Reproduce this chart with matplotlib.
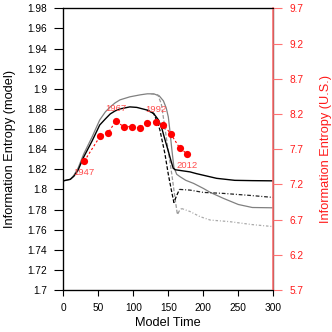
import matplotlib
matplotlib.use("Agg")
import matplotlib.pyplot as plt
from matplotlib.ticker import FuncFormatter

plt.rcParams['font.family'] = ['Liberation Sans', 'DejaVu Sans']

RED = '#ff1a1a'
RED_LIGHT = '#ff7373'

# model runs (left axis)
black_x = [0, 10, 15, 21, 29, 41, 52, 60, 67, 74, 81, 88, 95, 105, 119, 129, 136, 141, 145,
           150, 154, 157, 160, 170, 181, 190, 219, 245, 270, 300]
black_y = [1.8085, 1.810, 1.813, 1.819, 1.832, 1.848, 1.864, 1.870, 1.875, 1.878, 1.880, 1.881,
           1.882, 1.8815, 1.879, 1.8755, 1.869, 1.860, 1.850, 1.838, 1.828, 1.821, 1.8195,
           1.8185, 1.8174, 1.8157, 1.811, 1.809, 1.8087, 1.8085]

gray_x = [0, 10, 15, 21, 29, 41, 52, 60, 67, 74, 81, 95, 110, 120, 129, 137, 143, 147, 150,
          152, 155, 158, 162, 167, 175, 186, 200, 210, 229, 250, 270, 300]
gray_y = [1.8085, 1.810, 1.814, 1.821, 1.835, 1.852, 1.869, 1.877, 1.882, 1.886, 1.889, 1.892,
          1.894, 1.895, 1.895, 1.893, 1.888, 1.881, 1.872, 1.860, 1.840, 1.822, 1.815, 1.8125,
          1.809, 1.806, 1.801, 1.797, 1.791, 1.785, 1.782, 1.7817]

black_dash_x = [120, 129, 135, 138, 145, 150, 155, 158, 162, 166]
black_dash_y = [1.879, 1.8755, 1.866, 1.859, 1.836, 1.815, 1.797, 1.787, 1.794, 1.800]

black_dd_x = [166, 181, 200, 229, 267, 300]
black_dd_y = [1.800, 1.7993, 1.797, 1.796, 1.794, 1.792]

gray_dash_x = [125, 135, 140, 145, 150, 155, 160, 163, 166, 169]
gray_dash_y = [1.895, 1.894, 1.885, 1.862, 1.838, 1.815, 1.789, 1.775, 1.779, 1.781]

gray_dot_x = [169, 181, 195, 210, 237, 270, 300]
gray_dot_y = [1.781, 1.778, 1.773, 1.7695, 1.768, 1.765, 1.763]

# U.S. observations (right axis)
obs_x = [30, 53, 64, 75, 86, 98, 109, 120, 132, 143, 154, 166, 177]
obs_y = [7.53, 7.89, 7.93, 8.10, 8.02, 8.02, 8.00, 8.07, 8.09, 8.05, 7.91, 7.72, 7.63]
obs_labels = {0: '1947', 3: '1967', 8: '1992', 12: '2012'}

fig = plt.figure(figsize=(3.32, 3.32), dpi=100)
ax = fig.add_axes([0.1907, 0.1265, 0.6325, 0.8485])

ax.plot(gray_x, gray_y, color='#808080', lw=0.9)
ax.plot(gray_dash_x, gray_dash_y, color='#999999', lw=0.9, ls=(0, (3, 1.5)))
ax.plot(gray_dot_x, gray_dot_y, color='#aaaaaa', lw=0.9, ls=(0, (2, 1.5, 0.8, 1.5)))
ax.plot(black_x, black_y, color='black', lw=1.0)
ax.plot(black_dash_x, black_dash_y, color='black', lw=0.9, ls=(0, (3, 1.5)))
ax.plot(black_dd_x, black_dd_y, color='#222222', lw=0.9, ls=(0, (3, 1.5, 0.8, 1.5)))

ax.set_xlim(0, 300)
ax.set_ylim(1.7, 1.98)
ax.set_xticks(range(0, 301, 50))
ax.set_yticks([1.7 + 0.02 * i for i in range(15)])
ax.yaxis.set_major_formatter(FuncFormatter(lambda v, p: f"{round(v, 2):g}"))
ax.tick_params(direction='out', width=0.8, labelsize=7.3)
ax.tick_params(axis='x', length=4, pad=5)
ax.tick_params(axis='y', length=6.5, pad=5)
ax.set_xlabel('Model Time', fontsize=9.2, labelpad=3)
ax.set_ylabel('Information Entropy (model)', fontsize=9.2, labelpad=8)
for s in ax.spines.values():
    s.set_linewidth(0.9)

ax2 = ax.twinx()
ax2.plot(obs_x, obs_y, color='red', lw=0.8, ls=(0, (2, 2)), marker='o', ms=5.2,
         markeredgewidth=0)
for i, lab in obs_labels.items():
    dy = -8.5 if i in (0, 12) else 9
    ax2.annotate(lab, (obs_x[i], obs_y[i]), xytext=(0, dy), textcoords='offset points',
                 ha='center', va='center', fontsize=6.8, color='#ff4d4d')
ax2.set_ylim(5.7, 9.7)
ax2.set_yticks([5.7 + 0.5 * i for i in range(9)])
ax2.yaxis.set_major_formatter(FuncFormatter(lambda v, p: f"{round(v, 1):g}"))
ax2.tick_params(direction='out', length=6.5, width=0.8, labelsize=7.3, pad=5,
                colors=RED_LIGHT, labelcolor=RED)
ax2.spines['right'].set_color(RED_LIGHT)
ax2.spines['right'].set_linewidth(1.2)
ax2.set_ylabel('Information Entropy (U.S.)', fontsize=9.2, color=RED, labelpad=12)

fig.savefig('out.png', dpi=100)
